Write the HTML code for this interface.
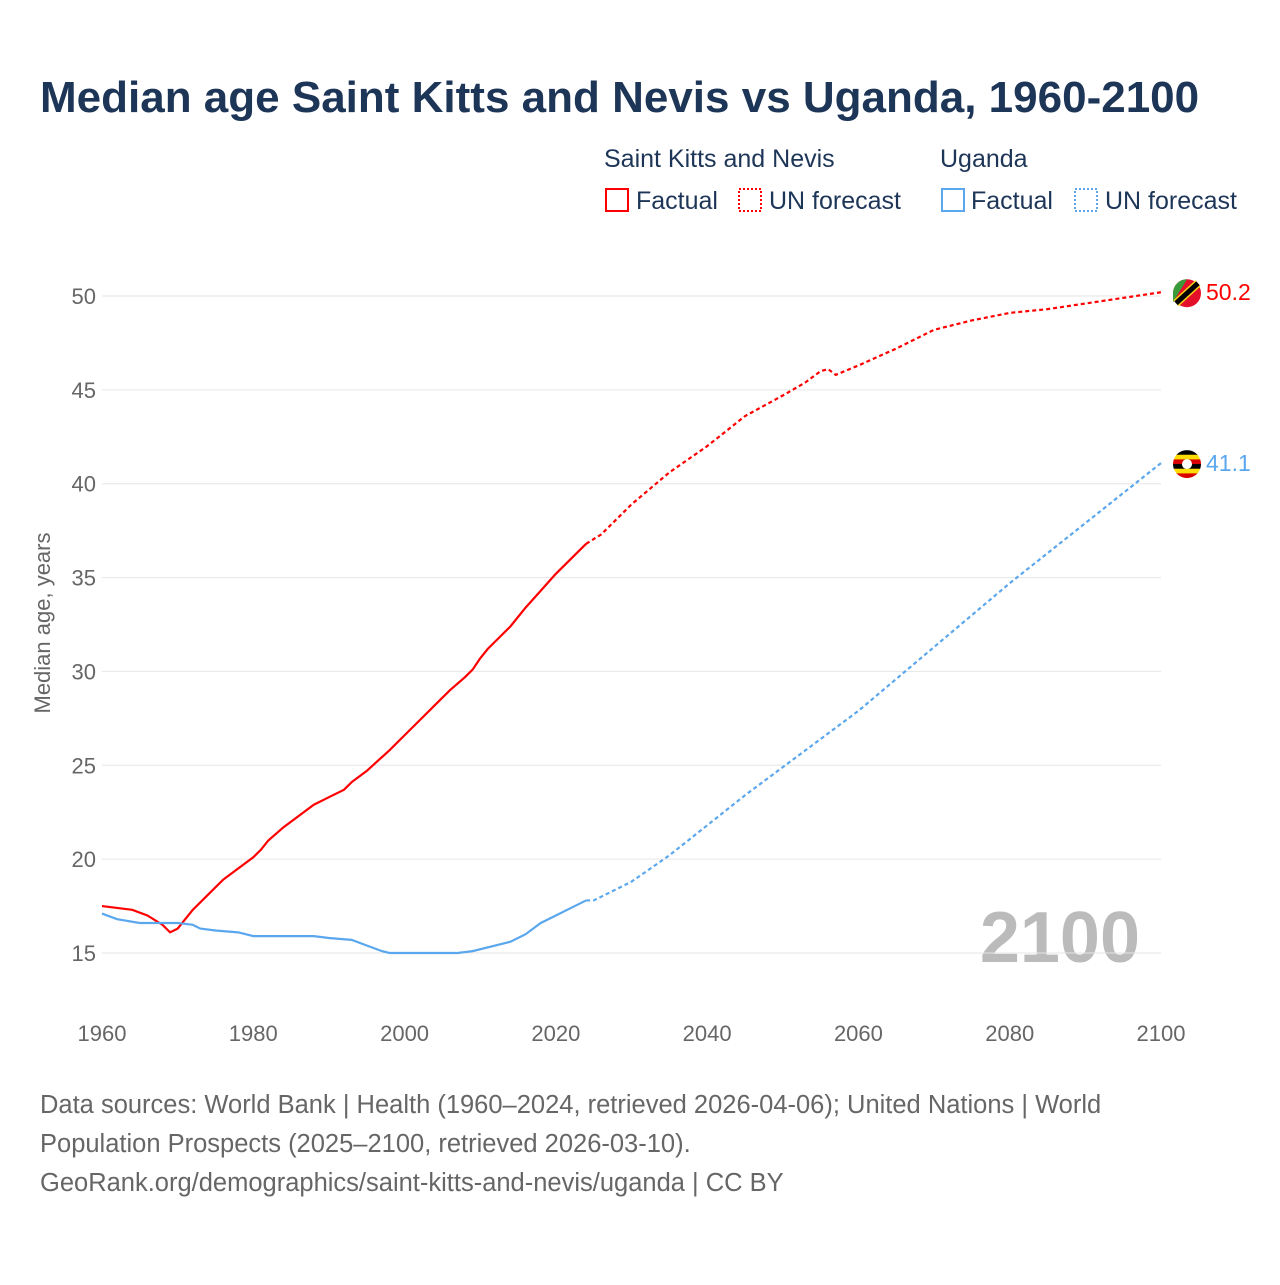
<!DOCTYPE html>
<html><head><meta charset="utf-8"><style>
body{margin:0;background:#fff;font-family:"Liberation Sans",sans-serif;}
svg text{font-family:"Liberation Sans",sans-serif;}
</style></head><body>
<svg id="c" width="1280" height="1280">
<text x="40" y="112" font-size="44" font-weight="bold" fill="#1d3557">Median age Saint Kitts and Nevis vs Uganda, 1960-2100</text>
<g font-size="25" fill="#1d3557">
<text x="604" y="167">Saint Kitts and Nevis</text>
<text x="940" y="167">Uganda</text>
<rect x="606" y="189" width="22" height="22" fill="none" stroke="#f00" stroke-width="2"/>
<text x="636" y="209">Factual</text>
<rect x="739" y="189" width="22" height="22" fill="none" stroke="#f00" stroke-width="2" stroke-dasharray="2,2"/>
<text x="769" y="209">UN forecast</text>
<rect x="942" y="189" width="22" height="22" fill="none" stroke="#5ba7ee" stroke-width="2"/>
<text x="971" y="209">Factual</text>
<rect x="1075" y="189" width="22" height="22" fill="none" stroke="#5ba7ee" stroke-width="2" stroke-dasharray="2,2"/>
<text x="1105" y="209">UN forecast</text>
</g>
<text transform="translate(50,623) rotate(-90)" text-anchor="middle" font-size="22" fill="#666">Median age, years</text>
<text x="1140" y="962" text-anchor="end" font-size="72" font-weight="bold" fill="#bbb">2100</text>
<g id="g"></g>
<g font-size="25.5" fill="#666">
<text x="40" y="1113">Data sources: World Bank | Health (1960–2024, retrieved 2026-04-06); United Nations | World</text>
<text x="40" y="1152">Population Prospects (2025–2100, retrieved 2026-03-10).</text>
<text x="40" y="1191">GeoRank.org/demographics/saint-kitts-and-nevis/uganda | CC BY</text>
</g>
</svg>
<script>
const yTicks=[15,20,25,30,35,40,45,50];
const xTicks=[1960,1980,2000,2020,2040,2060,2080,2100];
const sknFactYears=[1960,1962,1964,1966,1968,1969,1970,1972,1974,1976,1978,1980,1981,1982,1984,1986,1988,1990,1992,1993,1995,1998,2000,2002,2004,2006,2008,2009,2010,2011,2012,2014,2016,2018,2020,2022,2024];
const sknFactVals=[17.5,17.4,17.3,17.0,16.5,16.1,16.3,17.3,18.1,18.9,19.5,20.1,20.5,21.0,21.7,22.3,22.9,23.3,23.7,24.1,24.7,25.8,26.6,27.4,28.2,29.0,29.7,30.1,30.7,31.2,31.6,32.4,33.4,34.3,35.2,36.0,36.8];
const sknFcYears=[2024,2026,2030,2035,2040,2045,2050,2053,2055,2056,2057,2060,2065,2070,2075,2080,2085,2090,2095,2100];
const sknFcVals=[36.8,37.3,38.9,40.6,42.0,43.6,44.7,45.4,46.0,46.1,45.8,46.3,47.2,48.2,48.7,49.1,49.3,49.6,49.9,50.2];
const ugaFactYears=[1960,1962,1965,1970,1972,1973,1975,1978,1980,1985,1988,1990,1993,1995,1997,1998,2007,2009,2014,2016,2018,2020,2022,2024];
const ugaFactVals=[17.1,16.8,16.6,16.6,16.5,16.3,16.2,16.1,15.9,15.9,15.9,15.8,15.7,15.4,15.1,15.0,15.0,15.1,15.6,16.0,16.6,17.0,17.4,17.8];
const ugaFcYears=[2024,2025,2030,2035,2040,2045,2050,2055,2060,2065,2070,2075,2080,2085,2090,2095,2100];
const ugaFcVals=[17.8,17.8,18.8,20.2,21.8,23.4,24.9,26.4,27.9,29.6,31.3,33.0,34.7,36.3,37.9,39.5,41.1];
const X=y=>102+(y-1960)*(1059/140), Y=v=>953-(v-15)*(657/35);
const g=document.getElementById('g'),NS='http://www.w3.org/2000/svg';
function mk(t,a,p){const e=document.createElementNS(NS,t);for(const k in a)e.setAttribute(k,a[k]);(p||g).appendChild(e);return e;}
yTicks.forEach(v=>{
 const l=mk('line',{x1:102,x2:1161,y1:Y(v),y2:Y(v),stroke:'#e6e6e6'});
 
 
 const t=mk('text',{x:96,y:Y(v)+8,'text-anchor':'end','font-size':22,fill:'#666'});t.textContent=v;
 
 
});
xTicks.forEach(v=>{
 const t=mk('text',{x:X(v),y:1041,'text-anchor':'middle','font-size':22,fill:'#666'});t.textContent=v;
 
 
});
function line(xs,vs,col,dash,name){
 const p=mk('polyline',{points:xs.map((x,i)=>X(x)+','+Y(vs[i])).join(' '),fill:'none',stroke:col,'stroke-width':2.2,'stroke-dasharray':dash||'none'});
 
 
}
line(sknFactYears,sknFactVals,'#f00',null,'skn-factual-line');
line(sknFcYears,sknFcVals,'#f00','4,3','skn-forecast-line');
line(ugaFactYears,ugaFactVals,'#5ba7ee',null,'uganda-factual-line');
line(ugaFcYears,ugaFcVals,'#5ba7ee','4,3','uganda-forecast-line');
const sv=sknFcVals[sknFcVals.length-1],uv=ugaFcVals[ugaFcVals.length-1];
const f1=mk('g',{});
mk('circle',{cx:1187,cy:Y(sv)+1,r:14,fill:'#e4102a'},f1);
mk('path',{d:`M1173 ${Y(sv)+1} A14 14 0 0 1 1187 ${Y(sv)-13} L1173 ${Y(sv)+10}Z`,fill:'#3a9b3a'},f1);
mk('line',{x1:1176,y1:Y(sv)+11,x2:1198,y2:Y(sv)-9,stroke:'#fcd116','stroke-width':8},f1);
mk('line',{x1:1176,y1:Y(sv)+11,x2:1198,y2:Y(sv)-9,stroke:'#000','stroke-width':5},f1);
const t1=mk('text',{x:1206,y:Y(sv)+8,'font-size':23,fill:'#f00'});t1.textContent=sv.toFixed(1);


const f2=mk('g',{});
const cy=Y(uv)+1;
['#000','#fcdc04','#d90000','#000','#fcdc04','#d90000'].forEach((c,i)=>mk('rect',{x:1173,y:cy-14+i*28/6,width:28,height:28/6+0.5,fill:c},f2));
mk('circle',{cx:1187,cy:cy,r:5,fill:'#fff'},f2);
const cp=mk('clipPath',{id:'cu'});mk('circle',{cx:1187,cy:cy,r:14},cp);f2.setAttribute('clip-path','url(#cu)');
const t2=mk('text',{x:1206,y:Y(uv)+8,'font-size':23,fill:'#5ba7ee'});t2.textContent=uv.toFixed(1);


</script>
</body></html>
